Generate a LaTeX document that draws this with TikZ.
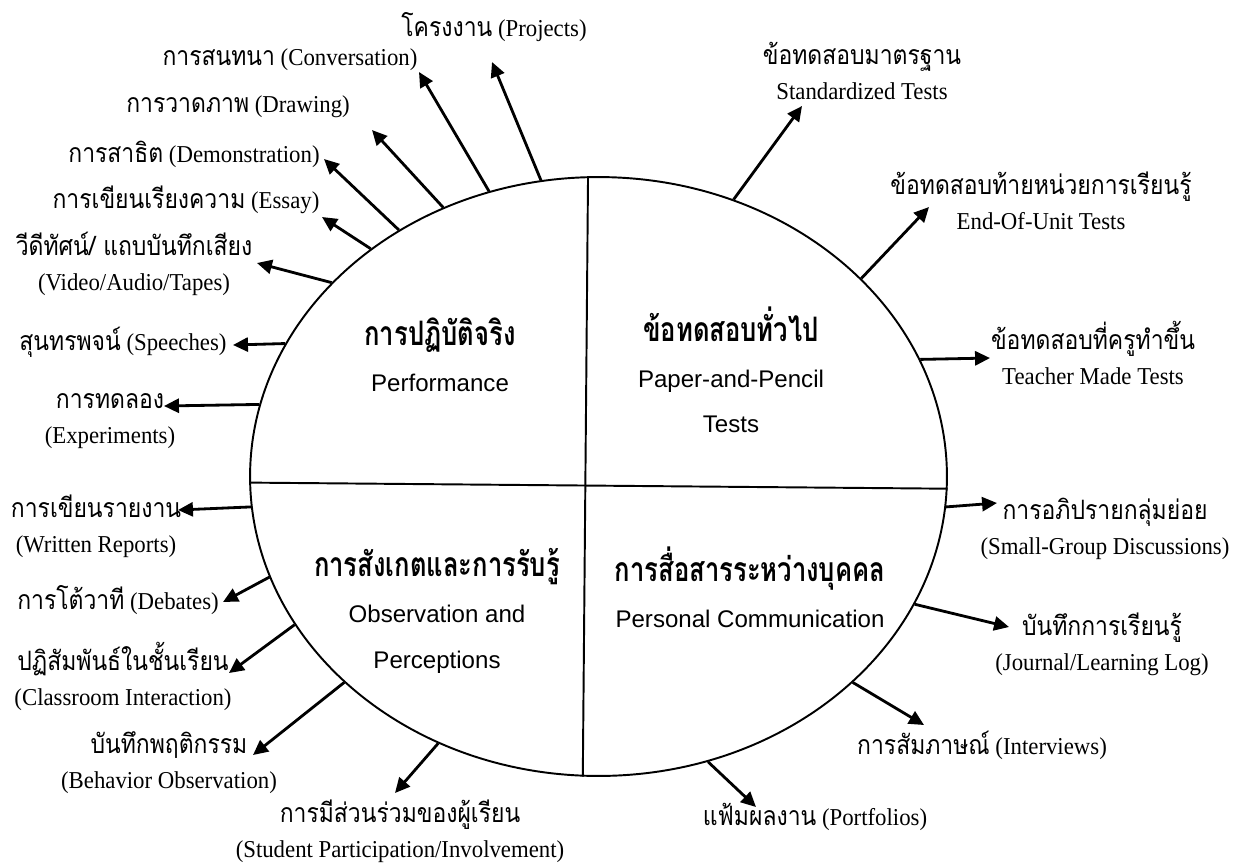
\documentclass[tikz,border=0pt]{standalone}
\usepackage{fontspec}
\setmainfont{Liberation Serif}[FakeStretch=0.94]
\newfontfamily\thaifont[Script=Thai, Scale=1.1, FakeStretch=0.86]{Loma}
\newfontfamily\thaihead[Script=Thai, Scale=1.4, FakeStretch=0.76]{Loma}
\newfontfamily\headfont{Liberation Sans}
\newcommand{\thai}[1]{{\thaifont #1}}
\newcommand{\thaibf}[1]{{\thaihead\bfseries #1}}
\newcommand{\lblfont}{\fontsize{13.8}{19.9}\selectfont\lineskiplimit=-20pt\relax}
\newcommand{\quadfont}{\fontsize{13.7}{26}\selectfont\headfont\lineskiplimit=-20pt\relax}
\usetikzlibrary{shapes.geometric, arrows.meta}

\begin{document}
\begin{tikzpicture}[
  x=0.02cm, y=-0.02cm,
  lbl/.style={align=center, inner sep=1pt, font=\lblfont},
  quad/.style={align=center, inner sep=1pt, font=\quadfont},
  divider/.style={line width=1.1pt},
  arrow/.style={-{Triangle[length=8.5pt, width=8pt]}, line width=1.6pt},
]
\useasboundingbox (0,0) rectangle (1239,863);
\node[ellipse, draw, line width=1.1pt, inner sep=0pt, minimum width=13.94cm, minimum height=11.98cm] (ell) at (598.5,476.5) {};
\draw[divider] (ell.92.39) -- (ell.267.61);
\draw[divider] (ell.181.89) -- (ell.358.11);
% quadrants
\node[quad] (perf) at (440,355) {\thaibf{การปฏิบัติจริง}\\Performance};
\node[quad] (paper) at (731,370) {\thaibf{ข้อทดสอบทั่วไป}\\Paper-and-Pencil\\Tests};
\node[quad] (obs) at (437,611) {\thaibf{การสังเกตและการรับรู้}\\Observation and\\Perceptions};
\node[quad] (comm) at (750,587) {\thaibf{การสื่อสารระหว่างบุคคล}\\Personal Communication};
% outer labels
\node[lbl] (proj) at (494,27) {\thai{โครงงาน} (Projects)};
\node[lbl] (conv) at (290,60) {\thai{การสนทนา} (Conversation)};
\node[lbl] (drw) at (238,107) {\thai{การวาดภาพ} (Drawing)};
\node[lbl] (demo) at (194,154) {\thai{การสาธิต} (Demonstration)};
\node[lbl] (essay) at (186,200) {\thai{การเขียนเรียงความ} (Essay)};
\node[lbl] (video) at (134,264) {\thai{วีดีทัศน์/ แถบบันทึกเสียง}\\(Video/Audio/Tapes)};
\node[lbl] (speech) at (123,342) {\thai{สุนทรพจน์} (Speeches)};
\node[lbl] (expt) at (110,421) {\thai{การทดลอง}\\(Experiments)};
\node[lbl] (report) at (96,526) {\thai{การเขียนรายงาน}\\(Written Reports)};
\node[lbl] (debate) at (118,600) {\thai{การโต้วาที} (Debates)};
\node[lbl] (class) at (123,676) {\thai{ปฏิสัมพันธ์ในชั้นเรียน}\\(Classroom Interaction)};
\node[lbl] (behav) at (169,763) {\thai{บันทึกพฤติกรรม}\\(Behavior Observation)};
\node[lbl] (stud) at (400,831) {\thai{การมีส่วนร่วมของผู้เรียน}\\(Student Participation/Involvement)};
\node[lbl] (port) at (815,817) {\thai{แฟ้มผลงาน} (Portfolios)};
\node[lbl] (intv) at (982,745) {\thai{การสัมภาษณ์} (Interviews)};
\node[lbl] (journ) at (1102,644) {\thai{บันทึกการเรียนรู้}\\(Journal/Learning Log)};
\node[lbl] (small) at (1105,529) {\thai{การอภิปรายกลุ่มย่อย}\\(Small-Group Discussions)};
\node[lbl] (teach) at (1093,353) {\thai{ข้อทดสอบที่ครูทำขึ้น}\\Teacher Made Tests};
\node[lbl] (eou) at (1041,201) {\thai{ข้อทดสอบท้ายหน่วยการเรียนรู้}\\End-Of-Unit Tests};
\node[lbl] (std) at (862,71) {\thai{ข้อทดสอบมาตรฐาน}\\Standardized Tests};
% arrow tips
\coordinate (proj-tip) at (492,62);
\coordinate (conv-tip) at (419,72);
\coordinate (drw-tip) at (372,130);
\coordinate (demo-tip) at (324,159);
\coordinate (essay-tip) at (322,217);
\coordinate (video-tip) at (257,263);
\coordinate (speech-tip) at (233,345);
\coordinate (expt-tip) at (164,406);
\coordinate (report-tip) at (178,510);
\coordinate (debate-tip) at (223,602);
\coordinate (class-tip) at (229,673);
\coordinate (behav-tip) at (253,755);
\coordinate (stud-tip) at (395,793);
\coordinate (port-tip) at (756,807);
\coordinate (intv-tip) at (924,725);
\coordinate (journ-tip) at (1009,627);
\coordinate (small-tip) at (997,503);
\coordinate (teach-tip) at (990,358);
\coordinate (eou-tip) at (929,207);
\coordinate (std-tip) at (802,106);
% arrows
\draw[arrow] (ell.101.53) -- (proj-tip);
\draw[arrow] (ell.111.05) -- (conv-tip);
\draw[arrow] (ell.120.65) -- (drw-tip);
\draw[arrow] (ell.129.04) -- (demo-tip);
\draw[arrow] (ell.135.5) -- (essay-tip);
\draw[arrow] (ell.144.84) -- (video-tip);
\draw[arrow] (ell.157.31) -- (speech-tip);
\draw[arrow] (ell.168.27) -- (expt-tip);
\draw[arrow] (ell.185.52) -- (report-tip);
\draw[arrow] (ell.197.22) -- (debate-tip);
\draw[arrow] (ell.206.68) -- (class-tip);
\draw[arrow] (ell.219.52) -- (behav-tip);
\draw[arrow] (ell.239.95) -- (stud-tip);
\draw[arrow] (ell.291.64) -- (port-tip);
\draw[arrow] (ell.321.85) -- (intv-tip);
\draw[arrow] (ell.338.31) -- (journ-tip);
\draw[arrow] (ell.355.65) -- (small-tip);
\draw[arrow] (ell.20.47) -- (teach-tip);
\draw[arrow] (ell.37.45) -- (eou-tip);
\draw[arrow] (ell.64.56) -- (std-tip);
\end{tikzpicture}
\end{document}
